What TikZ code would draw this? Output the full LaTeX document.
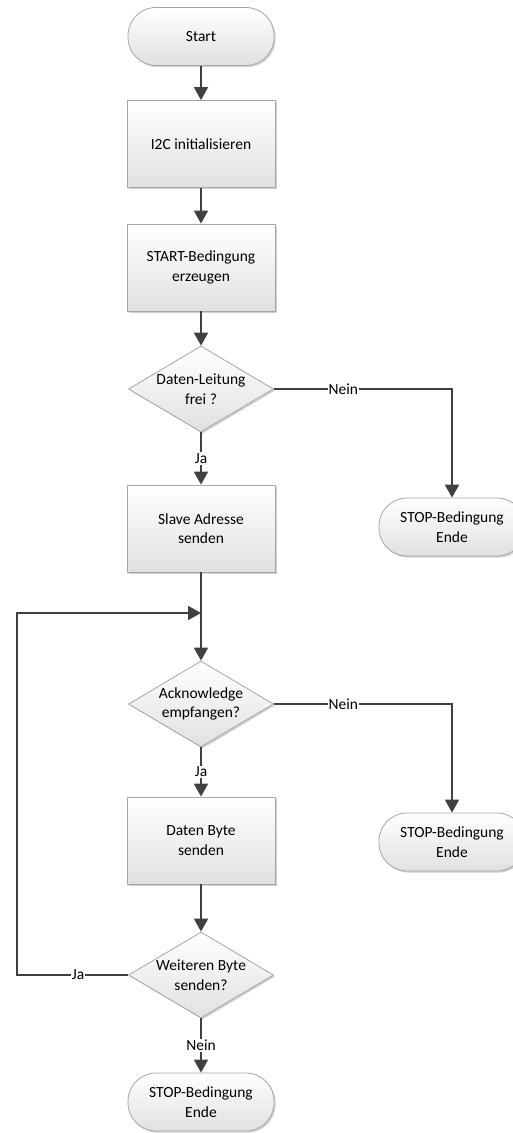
\documentclass[tikz,border=0pt]{standalone}
\usepackage{fontspec}
\setmainfont{Carlito}
\usetikzlibrary{shapes.geometric,arrows.meta,shadows}
\definecolor{edgegray}{HTML}{A6A6A6}
\definecolor{arrowgray}{HTML}{404040}
\begin{document}
\begin{tikzpicture}[x=1pt,y=-1pt,
  every node/.style={font=\fontsize{15.5}{19.5}\selectfont, text=black},
  base/.style={draw=edgegray, line width=0.8pt, top color=white, bottom color=black!12,
     drop shadow={shadow xshift=1.6pt, shadow yshift=-1.6pt, fill=black!30, opacity=0.6}},
  procbox/.style={base, rectangle, minimum width=148pt, minimum height=87pt, inner sep=0pt, align=center},
  term/.style={base, rectangle, rounded corners=28pt, minimum width=146pt, minimum height=58pt, inner sep=0pt, align=center},
  decision/.style={base, diamond, minimum width=145pt, minimum height=86pt, inner sep=0pt},
  dtext/.style={align=center, font=\fontsize{15.5}{19.5}\selectfont},
  flow/.style={draw=arrowgray, line width=1.8pt, -{Triangle[length=13pt,width=14pt]}},
  lab/.style={fill=white, inner sep=1pt}
]
\useasboundingbox (0,0) rectangle (512,1133);

\node[term] (start) at (201,36.5) {Start};
\node[procbox] (b1) at (201,144) {I2C initialisieren};
\node[procbox] (b2) at (201,267.5) {START-Bedingung\\erzeugen};
\node[decision, label={[dtext]center:Daten-Leitung\\frei ?}] (d1) at (201,389) {};
\node[procbox] (b3) at (201,528.5) {Slave Adresse\\senden};
\node[term] (s1) at (452,527) {STOP-Bedingung\\Ende};
\node[decision, label={[dtext]center:Acknowledge\\empfangen?}] (d2) at (201,704) {};
\node[term] (s2) at (452,842) {STOP-Bedingung\\Ende};
\node[procbox] (b4) at (201,840.5) {Daten Byte\\senden};
\node[decision, label={[dtext]center:Weiteren Byte\\senden?}] (d3) at (201,975) {};
\node[term] (s3) at (201,1102) {STOP-Bedingung\\Ende};

\coordinate (join) at (201,613);
\coordinate (c1) at (452,389);
\coordinate (c2) at (452,704);
\coordinate (l1) at (17,975);
\coordinate (l2) at (17,613);

\draw[flow] (start) -- (b1);
\draw[flow] (b1) -- (b2);
\draw[flow] (b2) -- (d1);
\draw[flow] (d1) -- node[lab, pos=0.5] {Ja} (b3);
\draw[flow] (d1.east) -- node[lab, pos=0.39] {Nein} (c1) -- (s1.north);
\draw[flow] (b3) -- (d2);
\draw[flow] (d2) -- node[lab, pos=0.5] {Ja} (b4);
\draw[flow] (d2.east) -- node[lab, pos=0.39] {Nein} (c2) -- (s2.north);
\draw[flow] (b4) -- (d3);
\draw[flow] (d3) -- node[lab, pos=0.5] {Nein} (s3);
\draw[flow] (d3.west) -- node[lab, pos=0.45] {Ja} (l1) -- (l2) -- (join);
\end{tikzpicture}
\end{document}
